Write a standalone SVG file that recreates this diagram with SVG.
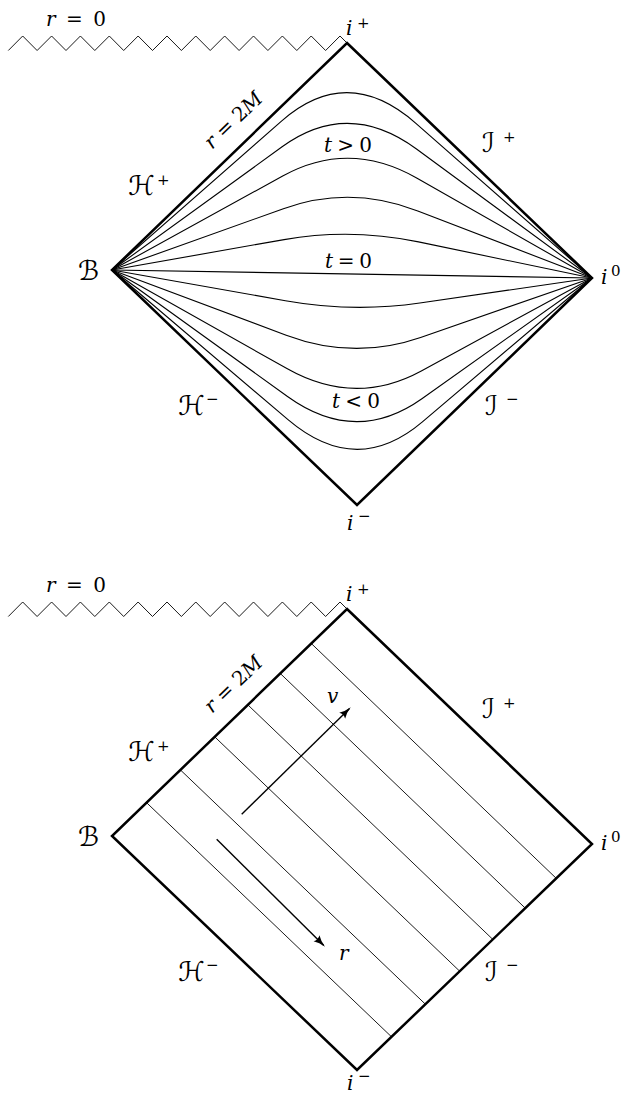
<svg xmlns="http://www.w3.org/2000/svg" width="621" height="1096" viewBox="0 0 621 1096">
<style>
.edge{fill:none;stroke:#000;stroke-width:2.5;stroke-linejoin:miter}
.curve{fill:none;stroke:#000;stroke-width:1.1;stroke-linejoin:round}
.thin{fill:none;stroke:#000;stroke-width:0.9}
.zig{fill:none;stroke:#000;stroke-width:0.9;stroke-linejoin:miter}
.arrow{fill:none;stroke:#000;stroke-width:1.4;marker-end:url(#ah)}
.m{font-family:"DejaVu Serif","Liberation Serif",serif;font-size:20px;fill:#000}
.it{font-style:italic}
.sc{font-family:"DejaVu Sans","DejaVu Serif",sans-serif;font-size:27px;fill:#000}
.sup{font-family:"DejaVu Serif","Liberation Serif",serif;font-size:15px;font-style:normal}
</style>
<defs>
<marker id="ah" viewBox="0 0 12 10" refX="10" refY="5" markerWidth="12" markerHeight="10" markerUnits="userSpaceOnUse" orient="auto">
<path d="M0,0.8 Q5,4 12,5 Q5,6 0,9.2 Q2.5,5 0,0.8 Z" fill="#000"/>
</marker>
</defs>

<!-- ===== Top diagram ===== -->
<g id="top-singularity">
<path class="zig" d="M8.3,50.5 L22.7,36 L37.1,50.5 L51.6,36 L66,50.5 L80.4,36 L94.8,50.5 L109.3,36 L123.7,50.5 L138.1,36 L152.5,50.5 L167,36 L181.4,50.5 L195.8,36 L210.2,50.5 L224.7,36 L239.1,50.5 L253.5,36 L267.9,50.5 L282.4,36 L296.8,50.5 L311.2,36 L325.6,50.5 L340,36 L347,43"/>
<text class="m" x="46" y="26" textLength="60" lengthAdjust="spacing"><tspan class="it">r</tspan> = 0</text>
</g>
<g id="top-diamond">
<polygon class="edge" points="347,43 592,278 357,505 112,270"/>
</g>
<g id="top-slices">
<path class="curve" d="M112,270 L281.5,121.1 Q347.4,63.1 415.9,123.3 L592,278"/>
<path class="curve" d="M112,270 L282.1,146.8 Q348.2,98.9 416.5,149.0 L592,278"/>
<path class="curve" d="M112,270 L282.7,176.0 Q349.1,139.4 417.1,178.2 L592,278"/>
<path class="curve" d="M112,270 L283.4,208.7 Q350.1,184.8 417.8,210.9 L592,278"/>
<path class="curve" d="M112,270 L284.1,239.6 Q351.0,227.8 418.5,241.9 L592,278"/>
<path class="curve" d="M112,270 L592,278"/>
<path class="curve" d="M112,270 L285.4,300.7 Q352.8,312.7 419.8,303.0 L592,278"/>
<path class="curve" d="M112,270 L286.2,335.2 Q353.9,360.5 420.6,337.4 L592,278"/>
<path class="curve" d="M112,270 L286.9,368.6 Q354.9,407.0 421.3,370.9 L592,278"/>
<path class="curve" d="M112,270 L287.5,396.5 Q355.7,445.6 421.9,398.7 L592,278"/>
<path class="curve" d="M112,270 L288.0,419.7 Q356.4,477.9 422.4,421.9 L592,278"/>
</g>
<g id="top-labels">
<text class="m" x="346" y="35"><tspan class="it">i</tspan><tspan class="sup" x="357" y="28">+</tspan></text>
<text class="m" transform="translate(238,125) rotate(-44)" text-anchor="middle" textLength="72" lengthAdjust="spacing"><tspan class="it">r</tspan> = 2<tspan class="it">M</tspan></text>
<text class="sc" x="128" y="195">ℋ<tspan class="sup" x="157" y="185">+</tspan></text>
<text class="sc" x="482" y="152">ℐ<tspan class="sup" x="503" y="142">+</tspan></text>
<text class="sc" x="78" y="280">ℬ</text>
<text class="m" x="601" y="284"><tspan class="it">i</tspan><tspan class="sup" x="611" y="276" font-size="13">0</tspan></text>
<text class="m" x="324" y="152" textLength="48" lengthAdjust="spacing"><tspan class="it">t</tspan> &gt; 0</text>
<text class="m" x="325" y="268" textLength="47" lengthAdjust="spacing"><tspan class="it">t</tspan> = 0</text>
<text class="m" x="332" y="408" textLength="48" lengthAdjust="spacing"><tspan class="it">t</tspan> &lt; 0</text>
<text class="sc" x="178" y="415">ℋ<tspan class="sup" x="206" y="404">−</tspan></text>
<text class="sc" x="485" y="415">ℐ<tspan class="sup" x="506" y="404">−</tspan></text>
<text class="m" x="347" y="530"><tspan class="it">i</tspan><tspan class="sup" x="358" y="521">−</tspan></text>
</g>

<!-- ===== Bottom diagram ===== -->
<g id="bottom-singularity">
<path class="zig" d="M8.3,616.5 L22.7,602 L37.1,616.5 L51.6,602 L66,616.5 L80.4,602 L94.8,616.5 L109.3,602 L123.7,616.5 L138.1,602 L152.5,616.5 L167,602 L181.4,616.5 L195.8,602 L210.2,616.5 L224.7,602 L239.1,616.5 L253.5,602 L267.9,616.5 L282.4,602 L296.8,616.5 L311.2,602 L325.6,616.5 L340,602 L347,609"/>
<text class="m" x="46" y="592" textLength="60" lengthAdjust="spacing"><tspan class="it">r</tspan> = 0</text>
</g>
<g id="bottom-diamond">
<polygon class="edge" points="347,609 592,844 357,1070 112,836"/>
</g>
<g id="bottom-null-lines">
<path class="thin" d="M146.5,802.6 L391.5,1036.8"/>
<path class="thin" d="M180.4,769.9 L425.4,1004.2"/>
<path class="thin" d="M214.7,736.8 L459.7,971.2"/>
<path class="thin" d="M247.8,704.8 L492.8,939.4"/>
<path class="thin" d="M280.3,673.5 L525.3,908.2"/>
<path class="thin" d="M311.3,643.5 L556.3,878.4"/>
</g>
<g id="connectors">
<path class="arrow" d="M241.7,814.3 L349.3,708.7"/>
<path class="arrow" d="M216.7,839.3 L323.6,945.3"/>
</g>
<g id="bottom-labels">
<text class="m" x="346" y="601"><tspan class="it">i</tspan><tspan class="sup" x="357" y="594">+</tspan></text>
<text class="m" transform="translate(238,689) rotate(-44)" text-anchor="middle" textLength="72" lengthAdjust="spacing"><tspan class="it">r</tspan> = 2<tspan class="it">M</tspan></text>
<text class="sc" x="128" y="761">ℋ<tspan class="sup" x="157" y="751">+</tspan></text>
<text class="sc" x="482" y="718">ℐ<tspan class="sup" x="503" y="708">+</tspan></text>
<text class="sc" x="78" y="846">ℬ</text>
<text class="m" x="601" y="850"><tspan class="it">i</tspan><tspan class="sup" x="611" y="842" font-size="13">0</tspan></text>
<text class="m it" x="327" y="703">v</text>
<text class="m it" x="339" y="960">r</text>
<text class="sc" x="178" y="981">ℋ<tspan class="sup" x="206" y="970">−</tspan></text>
<text class="sc" x="485" y="981">ℐ<tspan class="sup" x="506" y="970">−</tspan></text>
<text class="m" x="347" y="1090"><tspan class="it">i</tspan><tspan class="sup" x="358" y="1081">−</tspan></text>
</g>
</svg>
